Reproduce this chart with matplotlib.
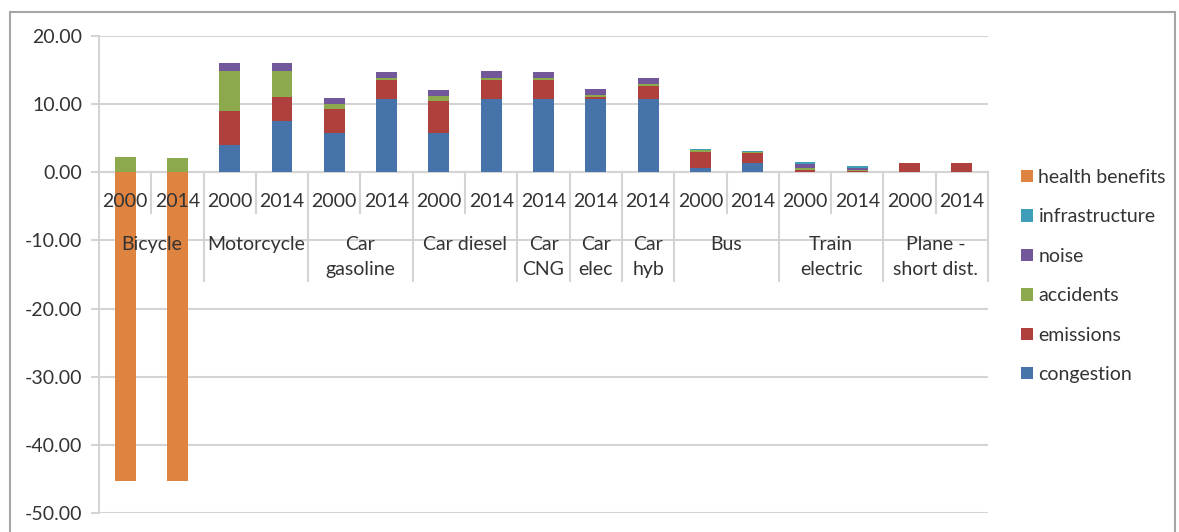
import matplotlib
matplotlib.use("Agg")
import matplotlib.pyplot as plt
from matplotlib.patches import Rectangle
import numpy as np

# ---- data ----
groups = ["Bicycle", "Motorcycle", "Car\ngasoline", "Car diesel", "Car\nCNG",
          "Car\nelec", "Car\nhyb", "Bus", "Train\nelectric", "Plane -\nshort dist."]
group_sizes = [2, 2, 2, 2, 1, 1, 1, 2, 2, 2]
years = ["2000", "2014", "2000", "2014", "2000", "2014", "2000", "2014", "2014",
         "2014", "2014", "2000", "2014", "2000", "2014", "2000", "2014"]

congestion = [0, 0, 4.0, 7.5, 5.8, 10.8, 5.8, 10.8, 10.8, 10.8, 10.8, 0.7, 1.4, 0.1, 0.05, 0, 0]
emissions = [0, 0, 5.0, 3.6, 3.45, 2.8, 4.7, 2.8, 2.7, 0.2, 1.9, 2.25, 1.37, 0.2, 0.1, 1.35, 1.35]
accidents = [2.3, 2.15, 5.8, 3.7, 0.73, 0.3, 0.67, 0.3, 0.3, 0.3, 0.25, 0.25, 0.2, 0.3, 0.2, 0, 0]
noise = [0, 0, 1.25, 1.25, 0.93, 0.85, 0.93, 0.9, 0.98, 0.85, 0.92, 0.1, 0.05, 0.6, 0.35, 0.08, 0.08]
infrastructure = [0, 0, 0, 0, 0, 0, 0, 0, 0, 0, 0, 0.15, 0.1, 0.25, 0.25, 0, 0]
health_benefits = [-45.3, -45.3, 0, 0, 0, 0, 0, 0, 0, 0, 0, 0, 0, 0, 0, 0, 0]

series = [
    ("congestion", congestion, "#4674AA"),
    ("emissions", emissions, "#B0403E"),
    ("accidents", accidents, "#8CA94E"),
    ("noise", noise, "#72589A"),
    ("infrastructure", infrastructure, "#3E9DB8"),
    ("health benefits", health_benefits, "#DE8340"),
]

plt.rcParams["font.family"] = ["Lato", "DejaVu Sans"]
TEXT = "#333333"
GRID = "#d4d4d4"
FS = 14

W, H = 1179, 532
fig = plt.figure(figsize=(W / 100, H / 100), dpi=100)
ax = fig.add_axes([99 / W, 1 - 513 / H, (988 - 99) / W, (513 - 36) / H])

x = np.arange(len(years))
pos_base = np.zeros(len(years))
neg_base = np.zeros(len(years))
handles = {}
for name, vals, color in series:
    v = np.array(vals, dtype=float)
    bottom = np.where(v >= 0, pos_base, neg_base)
    b = ax.bar(x, v, width=0.4, bottom=bottom, color=color, zorder=3, label=name)
    handles[name] = b
    pos_base += np.where(v > 0, v, 0)
    neg_base += np.where(v < 0, v, 0)

ax.set_xlim(-0.5, len(years) - 0.5)
ax.set_ylim(-50, 20)
ax.set_yticks(np.arange(-50, 21, 10))
ax.set_yticklabels([f"{t:.2f}" for t in np.arange(-50, 21, 10)])
ax.yaxis.grid(True, color=GRID, lw=1.5, zorder=0)
ax.set_xticks([])
ax.tick_params(axis="y", length=6, color=GRID, width=1.5, pad=6,
               labelsize=FS, labelcolor=TEXT)
for s in ["top", "right", "bottom"]:
    ax.spines[s].set_visible(False)
ax.spines["left"].set_color(GRID)
ax.spines["left"].set_linewidth(1.5)
ax.axhline(0, color=GRID, lw=1.5, zorder=2)

# multi-level category axis
for i, yr in enumerate(years):
    ax.text(i, -4.3, yr, ha="center", va="center", fontsize=FS, color=TEXT, zorder=4)
edges = np.concatenate([[0], np.cumsum(group_sizes)]) - 0.5
for k, name in enumerate(groups):
    center = (edges[k] + edges[k + 1]) / 2
    ax.text(center, -9.3, name, ha="center", va="top", fontsize=FS, color=TEXT,
            linespacing=1.6, zorder=4)
group_edges = set(np.round(edges, 2))
for b in np.arange(0.5, len(years) - 0.5 + 1e-9, 1.0):
    if round(b, 2) in group_edges:
        continue
    ax.plot([b, b], [0, -6.0], color=GRID, lw=1.5, zorder=2, clip_on=False)
for b in edges[1:]:
    ax.plot([b, b], [0, -15.9], color=GRID, lw=1.5, zorder=2, clip_on=False)

# legend
order = ["health benefits", "infrastructure", "noise", "accidents", "emissions", "congestion"]
leg = fig.legend([handles[n] for n in order], order, loc="center left",
                 bbox_to_anchor=(1021 / W, 1 - 276 / H), frameon=False,
                 fontsize=FS, labelcolor=TEXT, handlelength=0.6, handleheight=0.6,
                 handletextpad=0.3, labelspacing=1.15, borderpad=0, borderaxespad=0)

# outer chart frame
fig.patches.append(Rectangle((10 / W, -0.02), (1175 - 10) / W, 1 - 12 / H + 0.02,
                             transform=fig.transFigure, fill=False,
                             edgecolor="#a6a6a6", lw=1.5))

fig.savefig("out.png", dpi=100)
